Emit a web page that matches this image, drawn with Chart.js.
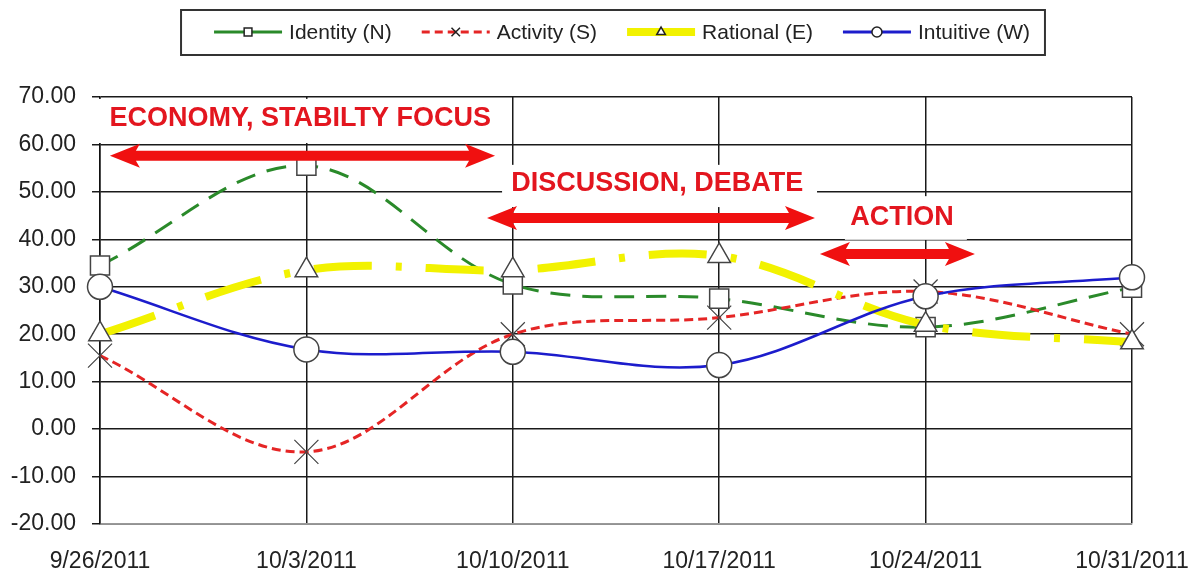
<!DOCTYPE html>
<html>
<head>
<meta charset="utf-8">
<script src="https://cdn.jsdelivr.net/npm/chart.js@4.4.0/dist/chart.umd.min.js"></script>
<style>
  html, body { margin: 0; padding: 0; background: #fff; }
</style>
</head>
<body>
<canvas id="trendChart" width="1200" height="577"></canvas>
<script>
// weekly values
const dates = ['9/26/2011', '10/3/2011', '10/10/2011', '10/17/2011', '10/24/2011', '10/31/2011'];
const identity = [34.5, 55.5, 30.5, 27.5, 21.5, 29.8];
const activity = [15.5, -4.8, 20.0, 23.5, 29.0, 20.0];
const rational = [20.0, 33.5, 33.5, 36.5, 22.0, 18.3];
const intuitive = [30.0, 16.8, 16.3, 13.5, 28.0, 32.0];
const yMin = -20, yMax = 70, yStep = 10;

// callouts, placed in data units (category index, value)
const notes = [
  { text: 'ECONOMY, STABILTY FOCUS', x: 0.97, y: 65.4, box: [-0.01, 1.94, 69.6, 60.3] },
  { text: 'DISCUSSION, DEBATE', x: 2.70, y: 51.7, box: [1.948, 3.474, 55.7, 46.8] },
  { text: 'ACTION', x: 3.886, y: 44.5, box: [3.609, 4.2, 49.1, 39.9] }
];
const arrows = [
  { from: 0.048, to: 1.914, y: 57.6 },
  { from: 1.875, to: 3.464, y: 44.5 },
  { from: 3.488, to: 4.239, y: 36.9 }
];

const FONT = '"Liberation Sans", Arial, sans-serif';
Chart.defaults.font.family = FONT;

function drawArrow(ctx, xa, xb, yc) {
  const shaft = 5, head = 12, hl = 30;
  ctx.beginPath();
  ctx.moveTo(xa, yc);
  ctx.lineTo(xa + hl, yc - head);
  ctx.lineTo(xa + hl - 4, yc - shaft);
  ctx.lineTo(xb - hl + 4, yc - shaft);
  ctx.lineTo(xb - hl, yc - head);
  ctx.lineTo(xb, yc);
  ctx.lineTo(xb - hl, yc + head);
  ctx.lineTo(xb - hl + 4, yc + shaft);
  ctx.lineTo(xa + hl - 4, yc + shaft);
  ctx.lineTo(xa + hl, yc + head);
  ctx.closePath();
  ctx.fill();
}

const notesPlugin = {
  id: 'notes',
  beforeDatasetsDraw(chart) {
    const { ctx, scales: { x, y } } = chart;
    ctx.save();
    notes.forEach(n => {
      const [x0, x1, yt, yb] = n.box;
      const px0 = x.getPixelForValue(x0), px1 = x.getPixelForValue(x1);
      const py0 = y.getPixelForValue(yt), py1 = y.getPixelForValue(yb);
      ctx.fillStyle = '#fff';
      ctx.fillRect(px0, py0, px1 - px0, py1 - py0);
      ctx.fillStyle = '#e3161f';
      ctx.font = 'bold 27px ' + FONT;
      ctx.textAlign = 'center';
      ctx.textBaseline = 'middle';
      ctx.fillText(n.text, x.getPixelForValue(n.x), y.getPixelForValue(n.y));
    });
    ctx.restore();
  },
  afterDatasetsDraw(chart) {
    const { ctx, scales: { x, y } } = chart;
    ctx.save();
    ctx.fillStyle = '#f01010';
    arrows.forEach(a => {
      drawArrow(ctx, x.getPixelForValue(a.from), x.getPixelForValue(a.to), y.getPixelForValue(a.y));
    });
    ctx.restore();
  }
};

// boxed legend like the spreadsheet one
const legendPlugin = {
  id: 'boxLegend',
  afterDraw(chart) {
    const ctx = chart.ctx;
    const sampleW = 68, gap = 7, spacing = 30, cy = 32;
    ctx.save();
    ctx.font = '21px ' + FONT;
    const items = chart.data.datasets.map(ds => ({ ds, w: ctx.measureText(ds.label).width }));
    const total = items.reduce((s, it) => s + sampleW + gap + it.w, 0) + spacing * (items.length - 1);
    let x = 622 - total / 2;
    ctx.strokeStyle = '#333';
    ctx.lineWidth = 2;
    ctx.strokeRect(x - 33, 10, total + 48, 45);
    items.forEach(it => {
      const ds = it.ds;
      ctx.save();
      ctx.strokeStyle = ds.borderColor;
      ctx.lineWidth = ds.legendLineWidth;
      ctx.setLineDash(ds.legendDash);
      ctx.beginPath();
      ctx.moveTo(x, cy);
      ctx.lineTo(x + sampleW, cy);
      ctx.stroke();
      ctx.setLineDash([]);
      ctx.lineWidth = 1.5;
      ctx.fillStyle = '#fff';
      ctx.strokeStyle = '#222';
      Chart.helpers.drawPoint(ctx, { pointStyle: ds.pointStyle, radius: ds.legendPointRadius, borderWidth: 1.5, rotation: 0 }, x + sampleW / 2, cy);
      ctx.restore();
      ctx.fillStyle = '#222';
      ctx.textAlign = 'left';
      ctx.textBaseline = 'middle';
      ctx.fillText(ds.label, x + sampleW + gap, cy + 1);
      x += sampleW + gap + it.w + spacing;
    });
    ctx.restore();
  }
};

const gridColor = '#1a1a1a';

new Chart(document.getElementById('trendChart'), {
  type: 'line',
  data: {
    labels: dates,
    datasets: [
      {
        label: 'Identity (N)',
        data: identity,
        borderColor: '#2a8a2a',
        borderWidth: 3,
        borderDash: [20, 12],
        pointStyle: 'rect',
        pointRadius: 13.5,
        pointBackgroundColor: '#fff',
        pointBorderColor: '#444',
        pointBorderWidth: 1.5,
        legendLineWidth: 3, legendDash: [], legendPointRadius: 5.5,
        order: 3
      },
      {
        label: 'Activity (S)',
        data: activity,
        borderColor: '#e52525',
        borderWidth: 3,
        borderDash: [9, 5],
        pointStyle: 'crossRot',
        pointRadius: 17,
        pointBackgroundColor: '#fff',
        pointBorderColor: '#444',
        pointBorderWidth: 1.2,
        legendLineWidth: 3, legendDash: [8, 5], legendPointRadius: 6,
        order: 2
      },
      {
        label: 'Rational (E)',
        data: rational,
        borderColor: '#f2f200',
        borderWidth: 8,
        borderDash: [58, 24, 6, 24],
        pointStyle: 'triangle',
        pointRadius: 13,
        pointBackgroundColor: '#fff',
        pointBorderColor: '#444',
        pointBorderWidth: 1.5,
        legendLineWidth: 8, legendDash: [], legendPointRadius: 5,
        order: 1
      },
      {
        label: 'Intuitive (W)',
        data: intuitive,
        borderColor: '#1c1ccc',
        borderWidth: 2.5,
        pointStyle: 'circle',
        pointRadius: 12.5,
        pointBackgroundColor: '#fff',
        pointBorderColor: '#444',
        pointBorderWidth: 1.5,
        legendLineWidth: 3, legendDash: [], legendPointRadius: 5,
        order: 0
      }
    ]
  },
  options: {
    responsive: false,
    animation: false,
    elements: { line: { tension: 0.35, fill: false } },
    layout: { padding: { top: 97, right: 68, left: 0, bottom: 0 } },
    scales: {
      x: {
        offset: false,
        grid: { color: gridColor, lineWidth: 1.5, drawTicks: false, offset: false },
        border: { color: '#999', width: 1.5 },
        ticks: { color: '#222', font: { size: 23 }, padding: 24, maxRotation: 0, autoSkip: false },
        afterFit: s => { s.height = 53; s.paddingLeft = 0; s.paddingRight = 0; }
      },
      y: {
        min: yMin,
        max: yMax,
        grid: { color: gridColor, lineWidth: 1.5, tickLength: 8 },
        border: { color: '#111', width: 1.5 },
        ticks: {
          stepSize: yStep,
          color: '#222',
          font: { size: 23 },
          padding: 16,
          callback: v => v.toFixed(2)
        },
        afterFit: s => { s.width = 100; s.paddingTop = 0; s.paddingBottom = 0; }
      }
    },
    plugins: {
      legend: { display: false },
      tooltip: { enabled: false }
    }
  },
  plugins: [notesPlugin, legendPlugin]
});
</script>
</body>
</html>
